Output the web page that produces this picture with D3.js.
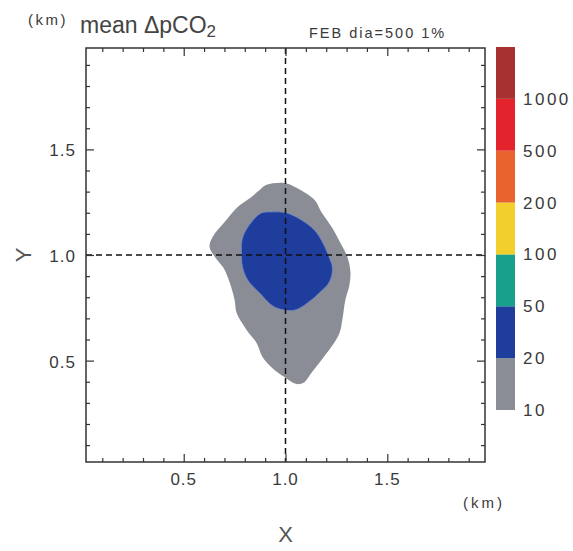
<!DOCTYPE html>
<html>
<head>
<meta charset="utf-8">
<script src="https://cdn.jsdelivr.net/npm/d3@7"></script>
<style>
  body { margin: 0; background: #fff; }
  svg text { font-family: "Liberation Sans", Arial, sans-serif; fill: #3a3a3a; }
</style>
</head>
<body>
<div id="chart"></div>
<script>
const width = 573;
const height = 551;

// contour levels (bottom to top of the colour bar)
const levels = [10, 20, 50, 100, 200, 500, 1000];
const levelColors = ["#8a8d96", "#1e3d9d", "#18a08a", "#f2cf2b", "#e9632e", "#e3242c", "#a63130"];

const majorTicks = [0.5, 1.0, 1.5];
const minorTicks = [0.1, 0.2, 0.3, 0.4, 0.6, 0.7, 0.8, 0.9, 1.1, 1.2, 1.3, 1.4, 1.6, 1.7, 1.8, 1.9];

// outline of the 10-20 region, km
const grayOutline = [
  [0.907, 1.332], [0.995, 1.341], [1.054, 1.318], [1.142, 1.261], [1.176, 1.204],
  [1.230, 1.128], [1.275, 1.047], [1.304, 0.991], [1.319, 0.919], [1.314, 0.858],
  [1.294, 0.787], [1.279, 0.692], [1.265, 0.630], [1.225, 0.564], [1.176, 0.502],
  [1.127, 0.441], [1.093, 0.398], [1.054, 0.389], [0.995, 0.422], [0.931, 0.469],
  [0.887, 0.517], [0.858, 0.583], [0.809, 0.645], [0.760, 0.725], [0.750, 0.787],
  [0.725, 0.872], [0.696, 0.938], [0.657, 0.986], [0.627, 1.038], [0.642, 1.085],
  [0.701, 1.156], [0.765, 1.227], [0.833, 1.275], [0.873, 1.308]
];

// outline of the 20-50 region, km
const blueOutline = [
  [0.931, 1.204], [1.005, 1.199], [1.078, 1.166], [1.142, 1.118], [1.181, 1.062],
  [1.216, 0.986], [1.230, 0.943], [1.225, 0.896], [1.206, 0.858], [1.181, 0.834],
  [1.127, 0.787], [1.044, 0.739], [0.946, 0.754], [0.873, 0.820], [0.814, 0.882],
  [0.789, 0.943], [0.784, 1.000], [0.789, 1.081], [0.833, 1.156], [0.882, 1.199]
];

const plot = { left: 86, right: 485, top: 48, bottom: 462 };

const svg = d3.select("#chart").append("svg")
    .attr("width", width)
    .attr("height", height);

const x = d3.scaleLinear().domain([0.02, 1.98]).range([plot.left, plot.right]);
const y = d3.scaleLinear().domain([0.02, 1.98]).range([plot.bottom, plot.top]);

const line = d3.line()
    .x(d => x(d[0]))
    .y(d => y(d[1]))
    .curve(d3.curveCatmullRomClosed.alpha(0.5));

svg.append("path")
    .attr("d", line(grayOutline))
    .attr("fill", levelColors[0]);

svg.append("path")
    .attr("d", line(blueOutline))
    .attr("fill", levelColors[1])
    .attr("stroke", "#6d86c4")
    .attr("stroke-width", 0.8);

// dashed cross at the centre
svg.append("line")
    .attr("x1", x(1)).attr("x2", x(1))
    .attr("y1", plot.top).attr("y2", plot.bottom)
    .attr("stroke", "#111").attr("stroke-width", 1.5)
    .attr("stroke-dasharray", "6,4");
svg.append("line")
    .attr("x1", plot.left).attr("x2", plot.right)
    .attr("y1", y(1)).attr("y2", y(1))
    .attr("stroke", "#111").attr("stroke-width", 1.5)
    .attr("stroke-dasharray", "6,4");

// inward ticks on all four sides
function ticks(axis, offset, size, values) {
    const g = svg.append("g")
        .attr("transform", offset)
        .call(axis.tickValues(values).tickSize(size).tickFormat(""));
    g.select(".domain").remove();
    g.selectAll("line").attr("stroke", "#333").attr("stroke-width", 1.2);
}
ticks(d3.axisTop(x), `translate(0,${plot.bottom})`, 8, majorTicks);
ticks(d3.axisTop(x), `translate(0,${plot.bottom})`, 4, minorTicks);
ticks(d3.axisBottom(x), `translate(0,${plot.top})`, 8, majorTicks);
ticks(d3.axisBottom(x), `translate(0,${plot.top})`, 4, minorTicks);
ticks(d3.axisRight(y), `translate(${plot.left},0)`, 8, majorTicks);
ticks(d3.axisRight(y), `translate(${plot.left},0)`, 4, minorTicks);
ticks(d3.axisLeft(y), `translate(${plot.right},0)`, 8, majorTicks);
ticks(d3.axisLeft(y), `translate(${plot.right},0)`, 4, minorTicks);

svg.append("rect")
    .attr("x", plot.left).attr("y", plot.top)
    .attr("width", plot.right - plot.left)
    .attr("height", plot.bottom - plot.top)
    .attr("fill", "none")
    .attr("stroke", "#333")
    .attr("stroke-width", 1.5);

// tick labels
svg.selectAll(".xlab")
    .data(majorTicks)
    .join("text")
    .attr("x", d => x(d))
    .attr("y", 485)
    .attr("text-anchor", "middle")
    .style("font-size", "17px")
    .style("letter-spacing", "1px")
    .text(d => d.toFixed(1));

svg.selectAll(".ylab")
    .data(majorTicks)
    .join("text")
    .attr("x", 76)
    .attr("y", d => y(d) + 7)
    .attr("text-anchor", "end")
    .style("font-size", "17px")
    .style("letter-spacing", "1px")
    .text(d => d.toFixed(1));

svg.append("text")
    .attr("transform", `translate(31,${y(1)}) rotate(-90)`)
    .attr("text-anchor", "middle")
    .style("font-size", "22px")
    .style("fill", "#555")
    .text("Y");

svg.append("text")
    .attr("x", x(1))
    .attr("y", 542)
    .attr("text-anchor", "middle")
    .style("font-size", "22px")
    .style("fill", "#555")
    .text("X");

svg.append("text")
    .attr("x", 463)
    .attr("y", 508)
    .style("font-size", "15px")
    .style("letter-spacing", "3px")
    .text("(km)");

// title
svg.append("text")
    .attr("x", 28)
    .attr("y", 25)
    .style("font-size", "15px")
    .style("letter-spacing", "2.5px")
    .text("(km)");

const title = svg.append("text")
    .attr("x", 80)
    .attr("y", 33)
    .style("font-size", "23px")
    .style("fill", "#444");
title.append("tspan").text("mean \u0394pCO");
title.append("tspan").attr("dy", 4).style("font-size", "17px").text("2");

svg.append("text")
    .attr("x", 309)
    .attr("y", 38)
    .style("font-size", "14.5px")
    .style("letter-spacing", "2px")
    .text("FEB dia=500 1%");

// colour bar
const bar = { left: 496, width: 19, top: 47, bottom: 410 };
const cb = d3.scaleLinear()
    .domain([0, levels.length])
    .range([bar.bottom, bar.top]);

svg.selectAll(".cbar")
    .data(levelColors)
    .join("rect")
    .attr("x", bar.left)
    .attr("y", (d, i) => cb(i + 1))
    .attr("width", bar.width)
    .attr("height", (d, i) => cb(i) - cb(i + 1))
    .attr("fill", d => d);

svg.selectAll(".cblab")
    .data(levels)
    .join("text")
    .attr("x", 523)
    .attr("y", (d, i) => cb(i) + 6)
    .style("font-size", "17px")
    .style("letter-spacing", "2.5px")
    .text(d => d);
</script>
</body>
</html>
